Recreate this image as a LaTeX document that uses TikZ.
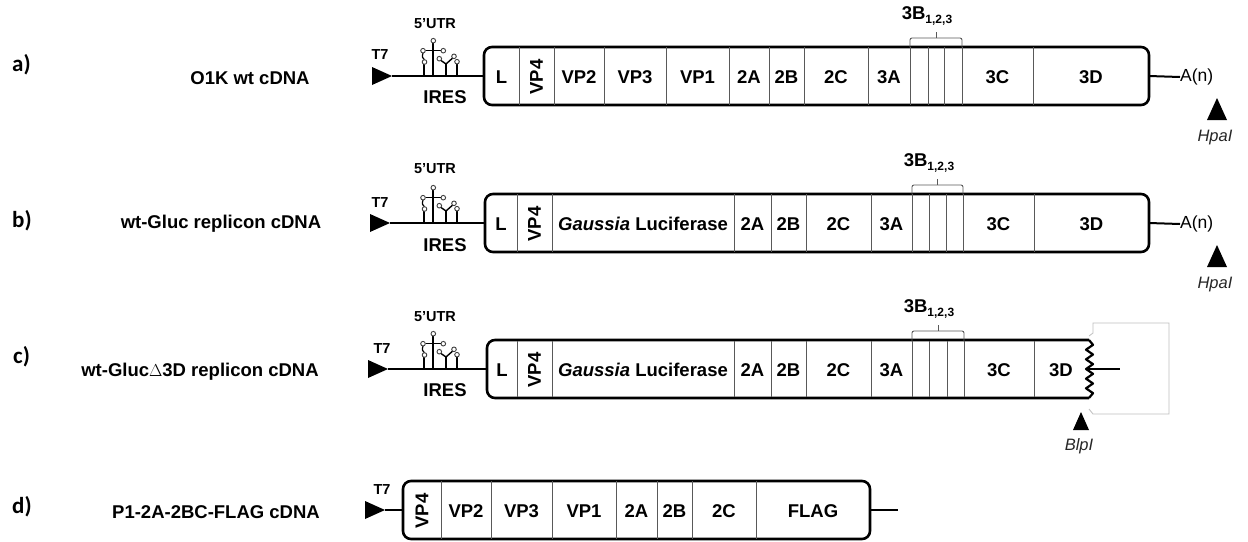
\documentclass[tikz,border=0pt]{standalone}
\usepackage{fontspec}
\setmainfont{Liberation Sans}
\newfontfamily\carl{Carlito}
\newcommand{\mystems}[1]{%
\begin{scope}[shift={(0,#1)}]
 \draw[line width=1.8pt] (424,0) -- (424,-11.7);
 \draw[line width=1.2pt] (424.5,-16.3) .. controls (422,-19) .. (423,-23);
 \draw[line width=1.8pt] (433.3,0) -- (433.3,-33);
 \draw[line width=1.2pt] (425.6,-25.3) -- (441,-25.3);
 \draw[line width=1.8pt] (446,0) -- (446,-12);
 \draw[line width=1.4pt] (441,-15.5) -- (446,-12) -- (452.5,-17.8);
 \draw[line width=1.8pt] (457,0) -- (457,-12);
 \foreach \p in {(424.5,-14),(423,-25.3),(433.3,-35.3),(443.3,-25.3),(439.3,-17.3),(454,-19.7),(457,-14.3)}
   \draw[loop] \p circle[radius=2.3pt];
\end{scope}}
\begin{document}
\begin{tikzpicture}[x=1pt,y=-1pt,
 box/.style={draw, line width=2.6pt, rounded corners=8pt, minimum height=58pt, inner sep=0pt, outer sep=0pt},
 bb/.style={line width=2.6pt},
 div/.style={draw=black!65, line width=0.9pt},
 seglbl/.style={font=\bfseries\fontsize{18.5}{20}\selectfont, inner sep=0pt},
 rowlbl/.style={font=\bfseries\fontsize{18.5}{20}\selectfont, inner sep=0pt},
 letter/.style={font=\carl\bfseries\fontsize{23}{25}\selectfont, inner sep=0pt, anchor=west},
 small/.style={font=\bfseries\fontsize{14.5}{16}\selectfont, inner sep=0pt},
 site/.style={font=\itshape\fontsize{16.5}{18}\selectfont, inner sep=0pt, text=black!85},
 plain/.style={font=\fontsize{17.5}{19}\selectfont, inner sep=0pt},
 loop/.style={draw=black!75, fill=white, line width=0.9pt},
 tri/.style={fill=black},
]
\useasboundingbox (0,0) rectangle (1248,541);
\fill[white] (0,0) rectangle (1248,541);

% ---------- letters and row labels
\node[letter] (la) at (12,65) {a)};
\node[letter] (lb) at (12,221) {b)};
\node[letter] (lc) at (13,357) {c)};
\node[letter] (ld) at (12,507) {d)};
\node[rowlbl] (na) at (250,78) {O1K wt cDNA};
\node[rowlbl] (nb) at (221,224) {wt-Gluc replicon cDNA};
\node[rowlbl] (nc) at (200,372) {wt-Gluc\(\Delta\)3D replicon cDNA};
\node[rowlbl] (nd) at (216,512) {P1-2A-2BC-FLAG cDNA};

% ================= row a (center 76)
\node[box, minimum width=665pt] (abox) at (816.5,76) {};
\foreach \x in {519,554,604,666,729,769,804,868,910,928,944,962,1033}
  \draw[div] (\x,47.3) -- (\x,104.7);
\draw[div, rounded corners=2pt] (910,47.3) -- (910,38) -- (962,38) -- (962,47.3);
\draw[div] (936,38) -- (936,32);
\node[seglbl] (a3b) at (927,16) {3B\raisebox{-4pt}{\fontsize{12}{12}\selectfont 1,2,3}};
\foreach \t/\x in {L/501.5,VP2/579,VP3/635,VP1/697.5,2A/749,2B/786.5,2C/836,3A/889,3C/997.5,3D/1091}
  \node[seglbl] at (\x,77) {\t};
\node[seglbl, rotate=90] (avp4) at (536.5,77) {VP4};
\coordinate (at7) at (392,76);
\fill[tri] (372,67) -- (at7) -- (372,85) -- cycle;
\node[small] (at7l) at (380,55) {T7};
\draw[bb] (at7) -- (abox.west);
\mystems{76}
\node[small] (autr) at (435,24) {5'UTR};
\node[seglbl] (aires) at (445,97) {IRES};
\node[plain, anchor=west] (aan) at (1180,77) {A(n)};
\draw[bb, line width=2pt] (abox.east) -- (aan.west);
\coordinate (ahp) at (1217,98);
\fill[tri] (ahp) -- (1227,120) -- (1207,120) -- cycle;
\node[site] (ahpl) at (1215,138) {HpaI};

% ================= row b (center 223)
\node[box, minimum width=664pt] (bbox) at (817,223) {};
\foreach \x in {517,552,734,771,806,871,912,929,946,963,1034}
  \draw[div] (\x,194.3) -- (\x,251.7);
\draw[div, rounded corners=2pt] (912,194.3) -- (912,185) -- (963,185) -- (963,194.3);
\draw[div] (937.5,185) -- (937.5,179);
\node[seglbl] (b3b) at (929,163) {3B\raisebox{-4pt}{\fontsize{12}{12}\selectfont 1,2,3}};
\foreach \t/\x in {L/501,2A/752.5,2B/788.5,2C/838.5,3A/891.5,3C/998.5,3D/1091.5}
  \node[seglbl] at (\x,224) {\t};
\node[seglbl] (bgl) at (643,224) {\textit{Gaussia} Luciferase};
\node[seglbl, rotate=90] (bvp4) at (534.5,224) {VP4};
\coordinate (bt7) at (390,223);
\fill[tri] (370,214) -- (bt7) -- (370,232) -- cycle;
\node[small] (bt7l) at (380,203) {T7};
\draw[bb] (bt7) -- (bbox.west);
\mystems{223}
\node[small] (butr) at (435,169) {5'UTR};
\node[seglbl] (bires) at (445,245) {IRES};
\node[plain, anchor=west] (ban) at (1180,224) {A(n)};
\draw[bb, line width=2pt] (bbox.east) -- (ban.west);
\coordinate (bhp) at (1217,245);
\fill[tri] (bhp) -- (1227,267) -- (1207,267) -- cycle;
\node[site] (bhpl) at (1215,285) {HpaI};

% ================= row c (center 369)
\draw[black!25, line width=0.8pt] (1089,336) -- (1093,333) -- (1093,323) -- (1169,323) -- (1169,414) -- (1093,414) -- (1089,409);
\coordinate (cbw) at (487,369);
\draw[bb, rounded corners=8pt] (1089,340) -- (487,340) -- (487,398) -- (1089,398);
\draw[bb, line width=2.2pt, line join=round] (1089,340) \foreach \i in {1,...,11} { -- ({1086+7*mod(\i,2)},{340+\i*58/12}) } -- (1089,398);
\coordinate (cze) at (1087,369);
\coordinate (cend) at (1120,369);
\draw[bb, line width=2.2pt] (cze) -- (cend);
\foreach \x in {517,552,734,771,806,871,912,929,947,964,1034}
  \draw[div] (\x,341.3) -- (\x,396.7);
\draw[div, rounded corners=2pt] (912,341.3) -- (912,331) -- (964,331) -- (964,341.3);
\draw[div] (938,331) -- (938,325);
\node[seglbl] (c3b) at (929,309) {3B\raisebox{-4pt}{\fontsize{12}{12}\selectfont 1,2,3}};
\foreach \t/\x in {L/502,2A/752.5,2B/788.5,2C/838.5,3A/891.5,3C/999,3D/1061}
  \node[seglbl] at (\x,370) {\t};
\node[seglbl] (cgl) at (643,370) {\textit{Gaussia} Luciferase};
\node[seglbl, rotate=90] (cvp4) at (534.5,370) {VP4};
\coordinate (ct7) at (388,369);
\fill[tri] (368,360) -- (ct7) -- (368,378) -- cycle;
\node[small] (ct7l) at (382,349) {T7};
\draw[bb] (ct7) -- (cbw);
\mystems{369}
\node[small] (cutr) at (435,317) {5'UTR};
\node[seglbl] (cires) at (445,390) {IRES};
\coordinate (cbl) at (1081,412);
\fill[tri] (cbl) -- (1089,430) -- (1073,430) -- cycle;
\node[site] (cbll) at (1079,446) {BlpI};

% ================= row d (center 510)
\node[box, minimum width=467pt] (dbox) at (636.5,510) {};
\foreach \x in {441,491,552,616,657,692,756}
  \draw[div] (\x,481.3) -- (\x,538.7);
\foreach \t/\x in {VP2/466,VP3/521.5,VP1/584,2A/636.5,2B/674.5,2C/724,FLAG/813}
  \node[seglbl] at (\x,511) {\t};
\node[seglbl, rotate=90] (dvp4) at (422,511) {VP4};
\coordinate (dt7) at (385,510);
\fill[tri] (365,501) -- (dt7) -- (365,519) -- cycle;
\node[small] (dt7l) at (382,490) {T7};
\draw[bb] (dt7) -- (dbox.west);
\coordinate (dend) at (898,510);
\draw[bb, line width=2pt] (dbox.east) -- (dend);
\end{tikzpicture}
\end{document}
